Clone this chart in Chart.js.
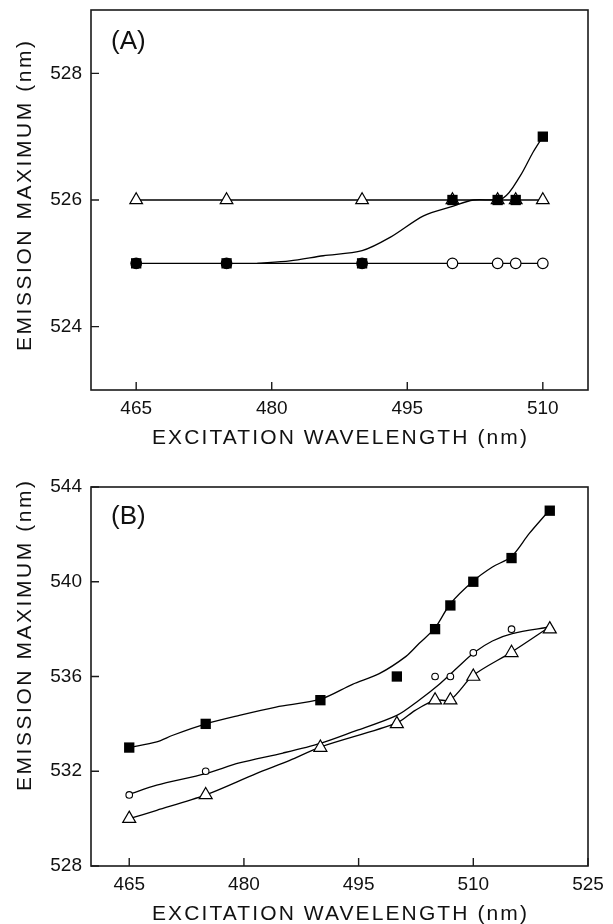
<!DOCTYPE html>
<html>
<head>
<meta charset="utf-8">
<script src="https://cdn.jsdelivr.net/npm/chart.js@4.4.0/dist/chart.umd.min.js"></script>
<style>
html,body{margin:0;padding:0;background:#fff;width:613px;height:924px;overflow:hidden}
.w{position:absolute;left:0;width:613px;height:462px}
canvas{display:block}
</style>
</head>
<body>
<div class="w" style="top:0"><canvas id="cA" width="613" height="462"></canvas></div>
<div class="w" style="top:462px"><canvas id="cB" width="613" height="462"></canvas></div>
<script>
// ---------- Panel (A) data ----------
const excitationA = [465, 475, 490, 500, 505, 507, 510];
const triangleA   = [526, 526, 526, 526, 526, 526, 526];
const circleA     = [525, 525, 525, 525, 525, 525, 525];
const squareA     = [525, 525, 525, 526, 526, 526, 527];
const squareFitAx = [478.4, 482.0, 485.7, 490.0, 493.1, 496.8, 500.0, 502.3, 505.6, 507.5, 508.9, 510.0];
const squareFitAy = [525.0, 525.04, 525.12, 525.2, 525.41, 525.75, 525.9, 526.0, 526.03, 526.38, 526.75, 527.0];
const xTicksA = [465, 480, 495, 510];
const yTicksA = [524, 526, 528];

// ---------- Panel (B) data ----------
const excitationB = [465, 475, 490, 500, 505, 507, 510, 515, 520];
const squareB     = [533, 534, 535, 536, 538, 539, 540, 541, 543];
const triangleB   = [530, 531, 533, 534, 535, 535, 536, 537, 538];
const circleBx    = [465, 475, 505, 507, 510, 515, 520];
const circleBy    = [531, 532, 536, 536, 537, 538, 538];
const squareFitBx = [465, 468.6, 470.7, 475, 479.4, 484.2, 490, 494.2, 497.7, 501.2, 502.9, 505, 507, 510, 512.5, 515, 517.3, 520];
const squareFitBy = [533.0, 533.24, 533.52, 534.0, 534.36, 534.71, 535.04, 535.67, 536.12, 536.85, 537.39, 538.05, 539.07, 540.03, 540.62, 541.07, 542.03, 543.04];
const circleFitBx = [465, 468.6, 475, 479.4, 485.1, 490, 494.2, 500, 502.9, 505.4, 508.0, 510.2, 512.5, 515.1, 520];
const circleFitBy = [531.03, 531.41, 531.9, 532.35, 532.77, 533.18, 533.66, 534.36, 535.0, 535.63, 536.4, 537.03, 537.5, 537.81, 538.09];
const triangleFitBx = [465, 468.6, 475, 481.6, 486.0, 490, 500, 502.4, 505, 507, 510, 515, 520];
const triangleFitBy = [530.0, 530.35, 531.0, 531.9, 532.46, 533.02, 534.04, 534.57, 535.0, 535.02, 536.05, 537.03, 538.1];
const xTicksB = [465, 480, 495, 510, 525];
const yTicksB = [528, 532, 536, 540, 544];

const xTitle = 'EXCITATION WAVELENGTH (nm)';
const yTitle = 'EMISSION MAXIMUM (nm)';

// ---------- helpers ----------
const FONT = '"Liberation Sans", Arial, Helvetica, sans-serif';
const INK = '#111';
const pts = (xs, ys) => xs.map((x, i) => ({x: x, y: ys[i]}));

function drawSpaced(ctx, text, cx, cy, target, rotate) {
  ctx.save();
  ctx.translate(cx, cy);
  if (rotate) ctx.rotate(-Math.PI / 2);
  ctx.font = '21px ' + FONT;
  ctx.fillStyle = INK;
  ctx.textBaseline = 'middle';
  ctx.textAlign = 'left';
  if ('letterSpacing' in ctx) ctx.letterSpacing = '0px';
  const w = ctx.measureText(text).width;
  const n = text.length;
  const sp = (target - w) / (n - 1);
  if ('letterSpacing' in ctx) {
    ctx.letterSpacing = sp.toFixed(2) + 'px';
    ctx.fillText(text, -target / 2, 0);
  } else {
    let xx = -target / 2;
    for (const c of text) { ctx.fillText(c, xx, 0); xx += ctx.measureText(c).width + sp; }
  }
  ctx.restore();
}

const framePlugin = {
  id: 'frame',
  afterDraw(chart) {
    const o = chart.options.plugins.frame;
    const {ctx, chartArea: a} = chart;
    const x = chart.scales.x, y = chart.scales.y;
    ctx.save();
    ctx.strokeStyle = '#1a1a1a';
    ctx.lineWidth = 1.6;
    ctx.strokeRect(a.left, a.top, a.right - a.left, a.bottom - a.top);
    ctx.lineWidth = 1.4;
    ctx.beginPath();
    x.ticks.forEach(t => {
      const px = x.getPixelForValue(t.value);
      ctx.moveTo(px, a.bottom); ctx.lineTo(px, a.bottom - 8);
    });
    y.ticks.forEach(t => {
      const py = y.getPixelForValue(t.value);
      ctx.moveTo(a.left, py); ctx.lineTo(a.left + 8, py);
    });
    ctx.stroke();
    // panel label
    ctx.font = '26px ' + FONT;
    ctx.fillStyle = INK;
    ctx.textBaseline = 'middle';
    ctx.textAlign = 'left';
    ctx.fillText(o.label, o.labelX, o.labelY);
    ctx.restore();
    drawSpaced(ctx, xTitle, (a.left + a.right) / 2, o.xTitleY, 375, false);
    drawSpaced(ctx, yTitle, 25, o.yTitleY, 310, true);
  }
};

function baseOptions(cfg) {
  return {
    responsive: false,
    animation: false,
    events: [],
    layout: {padding: {left: 0, right: 25, top: cfg.top, bottom: 0}},
    plugins: {
      legend: {display: false},
      tooltip: {enabled: false},
      frame: {label: cfg.label, labelX: 111, labelY: cfg.labelY, xTitleY: cfg.xTitleY, yTitleY: cfg.yTitleY}
    },
    scales: {
      x: {
        type: 'linear', min: cfg.xmin, max: cfg.xmax,
        grid: {display: false, drawTicks: false},
        border: {display: false},
        ticks: {font: {family: FONT, size: 19}, color: INK, padding: 7, maxRotation: 0},
        afterBuildTicks: s => { s.ticks = cfg.xticks.map(v => ({value: v})); },
        afterFit: s => { s.height = cfg.xh; }
      },
      y: {
        type: 'linear', min: cfg.ymin, max: cfg.ymax,
        grid: {display: false, drawTicks: false},
        border: {display: false},
        ticks: {font: {family: FONT, size: 19}, color: INK, padding: 9},
        afterBuildTicks: s => { s.ticks = cfg.yticks.map(v => ({value: v})); },
        afterFit: s => { s.width = 91; s.paddingTop = 0; s.paddingBottom = 0; }
      }
    }
  };
}

const fitStyle = {showLine: true, pointRadius: 0, borderColor: '#000', borderWidth: 1.3, tension: 0.3, fill: false, order: 5};

// ---------- Chart A ----------
new Chart(document.getElementById('cA'), {
  type: 'scatter',
  plugins: [framePlugin],
  data: {
    datasets: [
      Object.assign({label: 'fit squares', data: pts(squareFitAx, squareFitAy)}, fitStyle),
      {label: 'circles', data: pts(excitationA, circleA), showLine: true, borderColor: '#000', borderWidth: 1.3,
       pointStyle: 'circle', pointRadius: 5.3, pointBorderWidth: 1.2, pointBorderColor: '#000',
       pointBackgroundColor: ['#000', '#000', '#000', '#fff', '#fff', '#fff', '#fff'], order: 4},
      {label: 'triangles', data: pts(excitationA, triangleA), showLine: true, borderColor: '#000', borderWidth: 1.3,
       pointStyle: 'triangle', pointRadius: 7.3, pointBorderWidth: 1.2, pointBorderColor: '#000', pointBackgroundColor: '#fff', order: 3},
      {label: 'squares', data: pts(excitationA, squareA), showLine: false,
       pointStyle: 'rect', pointRadius: 7.3, pointBorderWidth: 0, pointBackgroundColor: '#000', pointBorderColor: '#000', order: 1}
    ]
  },
  options: baseOptions({top: 10, xh: 72, xmin: 460, xmax: 515, ymin: 523, ymax: 529,
    xticks: xTicksA, yticks: yTicksA, label: '(A)', labelY: 42, xTitleY: 438, yTitleY: 196})
});

// ---------- Chart B ----------
new Chart(document.getElementById('cB'), {
  type: 'scatter',
  plugins: [framePlugin],
  data: {
    datasets: [
      Object.assign({label: 'fit squares', data: pts(squareFitBx, squareFitBy)}, fitStyle),
      Object.assign({label: 'fit circles', data: pts(circleFitBx, circleFitBy)}, fitStyle),
      Object.assign({label: 'fit triangles', data: pts(triangleFitBx, triangleFitBy)}, fitStyle),
      {label: 'circles', data: pts(circleBx, circleBy), showLine: false,
       pointStyle: 'circle', pointRadius: 3.3, pointBorderWidth: 1.1, pointBorderColor: '#000', pointBackgroundColor: '#fff', order: 4},
      {label: 'triangles', data: pts(excitationB, triangleB), showLine: false,
       pointStyle: 'triangle', pointRadius: 7.5, pointBorderWidth: 1.2, pointBorderColor: '#000', pointBackgroundColor: '#fff', order: 3},
      {label: 'squares', data: pts(excitationB, squareB), showLine: false,
       pointStyle: 'rect', pointRadius: 7.3, pointBorderWidth: 0, pointBackgroundColor: '#000', pointBorderColor: '#000', order: 1}
    ]
  },
  options: baseOptions({top: 25, xh: 58, xmin: 460, xmax: 525, ymin: 528, ymax: 544,
    xticks: xTicksB, yticks: yTicksB, label: '(B)', labelY: 55, xTitleY: 452, yTitleY: 174})
});
</script>
</body>
</html>
